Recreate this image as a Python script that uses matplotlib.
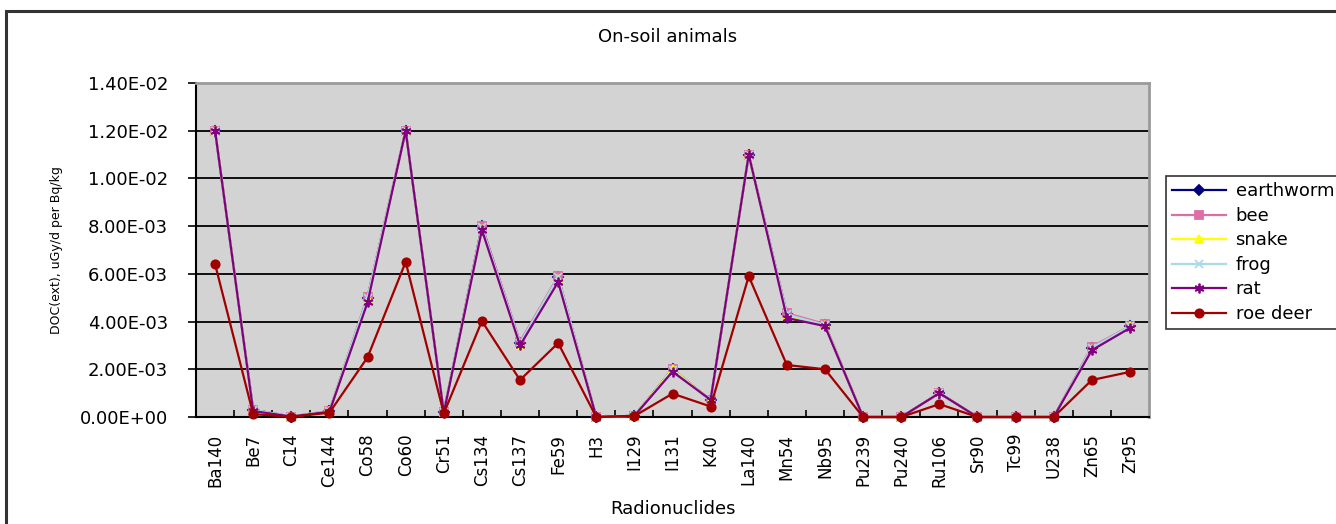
import matplotlib
matplotlib.use("Agg")
import matplotlib.pyplot as plt
import numpy as np
from matplotlib.patches import Rectangle
from matplotlib.ticker import FixedLocator

plt.rcParams['font.family'] = ['DejaVu Sans']

nuclides = ["Ba140", "Be7", "C14", "Ce144", "Co58", "Co60", "Cr51", "Cs134", "Cs137",
            "Fe59", "H3", "I129", "I131", "K40", "La140", "Mn54", "Nb95", "Pu239",
            "Pu240", "Ru106", "Sr90", "Tc99", "U238", "Zn65", "Zr95"]

# values in units of 1e-3 uGy/d per Bq/kg
earthworm = [12.0, 0.30, 0.02, 0.25, 5.00, 12.0, 0.20, 8.00, 3.10, 5.85, 0.0, 0.05, 2.00,
             0.70, 11.0, 4.30, 3.85, 0.0, 0.0, 1.00, 0.0, 0.0, 0.0, 2.90, 3.80]
bee = [12.0, 0.30, 0.02, 0.25, 5.05, 12.0, 0.20, 8.02, 3.15, 5.90, 0.0, 0.05, 2.00,
       0.70, 11.0, 4.35, 3.90, 0.0, 0.0, 1.00, 0.0, 0.0, 0.0, 2.95, 3.80]
snake = [12.0, 0.28, 0.02, 0.25, 4.95, 12.0, 0.20, 7.90, 3.00, 5.80, 0.0, 0.05, 2.00,
         0.70, 11.0, 4.25, 3.85, 0.0, 0.0, 1.00, 0.0, 0.0, 0.0, 2.85, 3.80]
frog = [12.0, 0.30, 0.02, 0.25, 5.00, 12.0, 0.20, 7.95, 3.10, 5.85, 0.0, 0.05, 1.95,
        0.70, 11.0, 4.30, 3.85, 0.0, 0.0, 1.00, 0.0, 0.0, 0.0, 2.90, 3.80]
rat = [12.0, 0.25, 0.02, 0.22, 4.80, 12.0, 0.18, 7.84, 3.00, 5.66, 0.0, 0.05, 1.90,
       0.72, 11.0, 4.15, 3.81, 0.0, 0.0, 1.00, 0.0, 0.0, 0.0, 2.80, 3.73]
roe_deer = [6.41, 0.12, 0.01, 0.18, 2.50, 6.50, 0.15, 4.02, 1.55, 3.10, 0.0, 0.04, 0.98,
            0.44, 5.90, 2.18, 2.00, 0.0, 0.0, 0.54, 0.0, 0.0, 0.0, 1.55, 1.89]

series = [
    ("earthworm", earthworm, "#000080", "D", 5),
    ("bee", bee, "#DD6EA6", "s", 6),
    ("snake", snake, "#FFFF00", "^", 6),
    ("frog", frog, "#A6DCE8", "x", 6),
    ("rat", rat, "#800080", (6, 2, 0), 7),
    ("roe deer", roe_deer, "#A00000", "o", 6),
]

fig = plt.figure(figsize=(13.36, 5.24), dpi=100)
ax = fig.add_axes([196 / 1336, 107 / 524, 953 / 1336, 334 / 524])
ax.set_facecolor("#D3D3D3")

x = np.arange(len(nuclides))
for name, vals, col, mk, ms in series:
    ax.plot(x, np.array(vals) * 1e-3, color=col, marker=mk, markersize=ms, lw=1.6,
            label=name, mec=col, mfc=col, mew=1.3, clip_on=False, zorder=3)

ax.set_xlim(-0.5, len(nuclides) - 0.5)
ax.set_ylim(0, 0.014)
yt = np.arange(0, 0.0141, 0.002)
ax.set_yticks(yt)
ax.set_yticklabels(["0.00E+00" if v == 0 else "%.2E" % v for v in yt])
ax.yaxis.grid(True, color="black", lw=1.3)
ax.set_axisbelow(True)

ax.set_xticks(x)
ax.set_xticklabels(nuclides, rotation=90, fontsize=12)
ax.xaxis.set_minor_locator(FixedLocator(np.arange(0.5, len(nuclides) - 1, 1)))
ax.tick_params(axis="x", which="major", length=0, pad=12)
ax.tick_params(axis="x", which="minor", direction="in", length=5, width=1.2)
ax.tick_params(axis="y", length=6, width=1.2, labelsize=13, pad=14)

for s in ["left", "bottom"]:
    ax.spines[s].set_color("black")
    ax.spines[s].set_linewidth(1.5)
for s in ["top", "right"]:
    ax.spines[s].set_color("#9A9A9A")
    ax.spines[s].set_linewidth(2)

ax.set_xlabel("Radionuclides", fontsize=13, labelpad=9)
ax.set_ylabel("DOC(ext), uGy/d per Bq/kg", fontsize=9, labelpad=12)
fig.text(0.5, 1 - 37 / 524, "On-soil animals", ha="center", va="center", fontsize=13)

leg = fig.legend(loc="upper left", bbox_to_anchor=(1166 / 1336, 1 - 176 / 524),
                 fontsize=13, frameon=True, fancybox=False, handlelength=3.0,
                 labelspacing=0.36, borderpad=0.35, handletextpad=0.5, borderaxespad=0)
leg.get_frame().set_edgecolor("black")
leg.get_frame().set_linewidth(1.2)

fig.patches.append(Rectangle((6 / 1336, -0.1), 1.2, 1.1 - 11 / 524, transform=fig.transFigure,
                             fill=False, edgecolor="#333333", lw=2.2))

fig.savefig("out.png", dpi=100)
